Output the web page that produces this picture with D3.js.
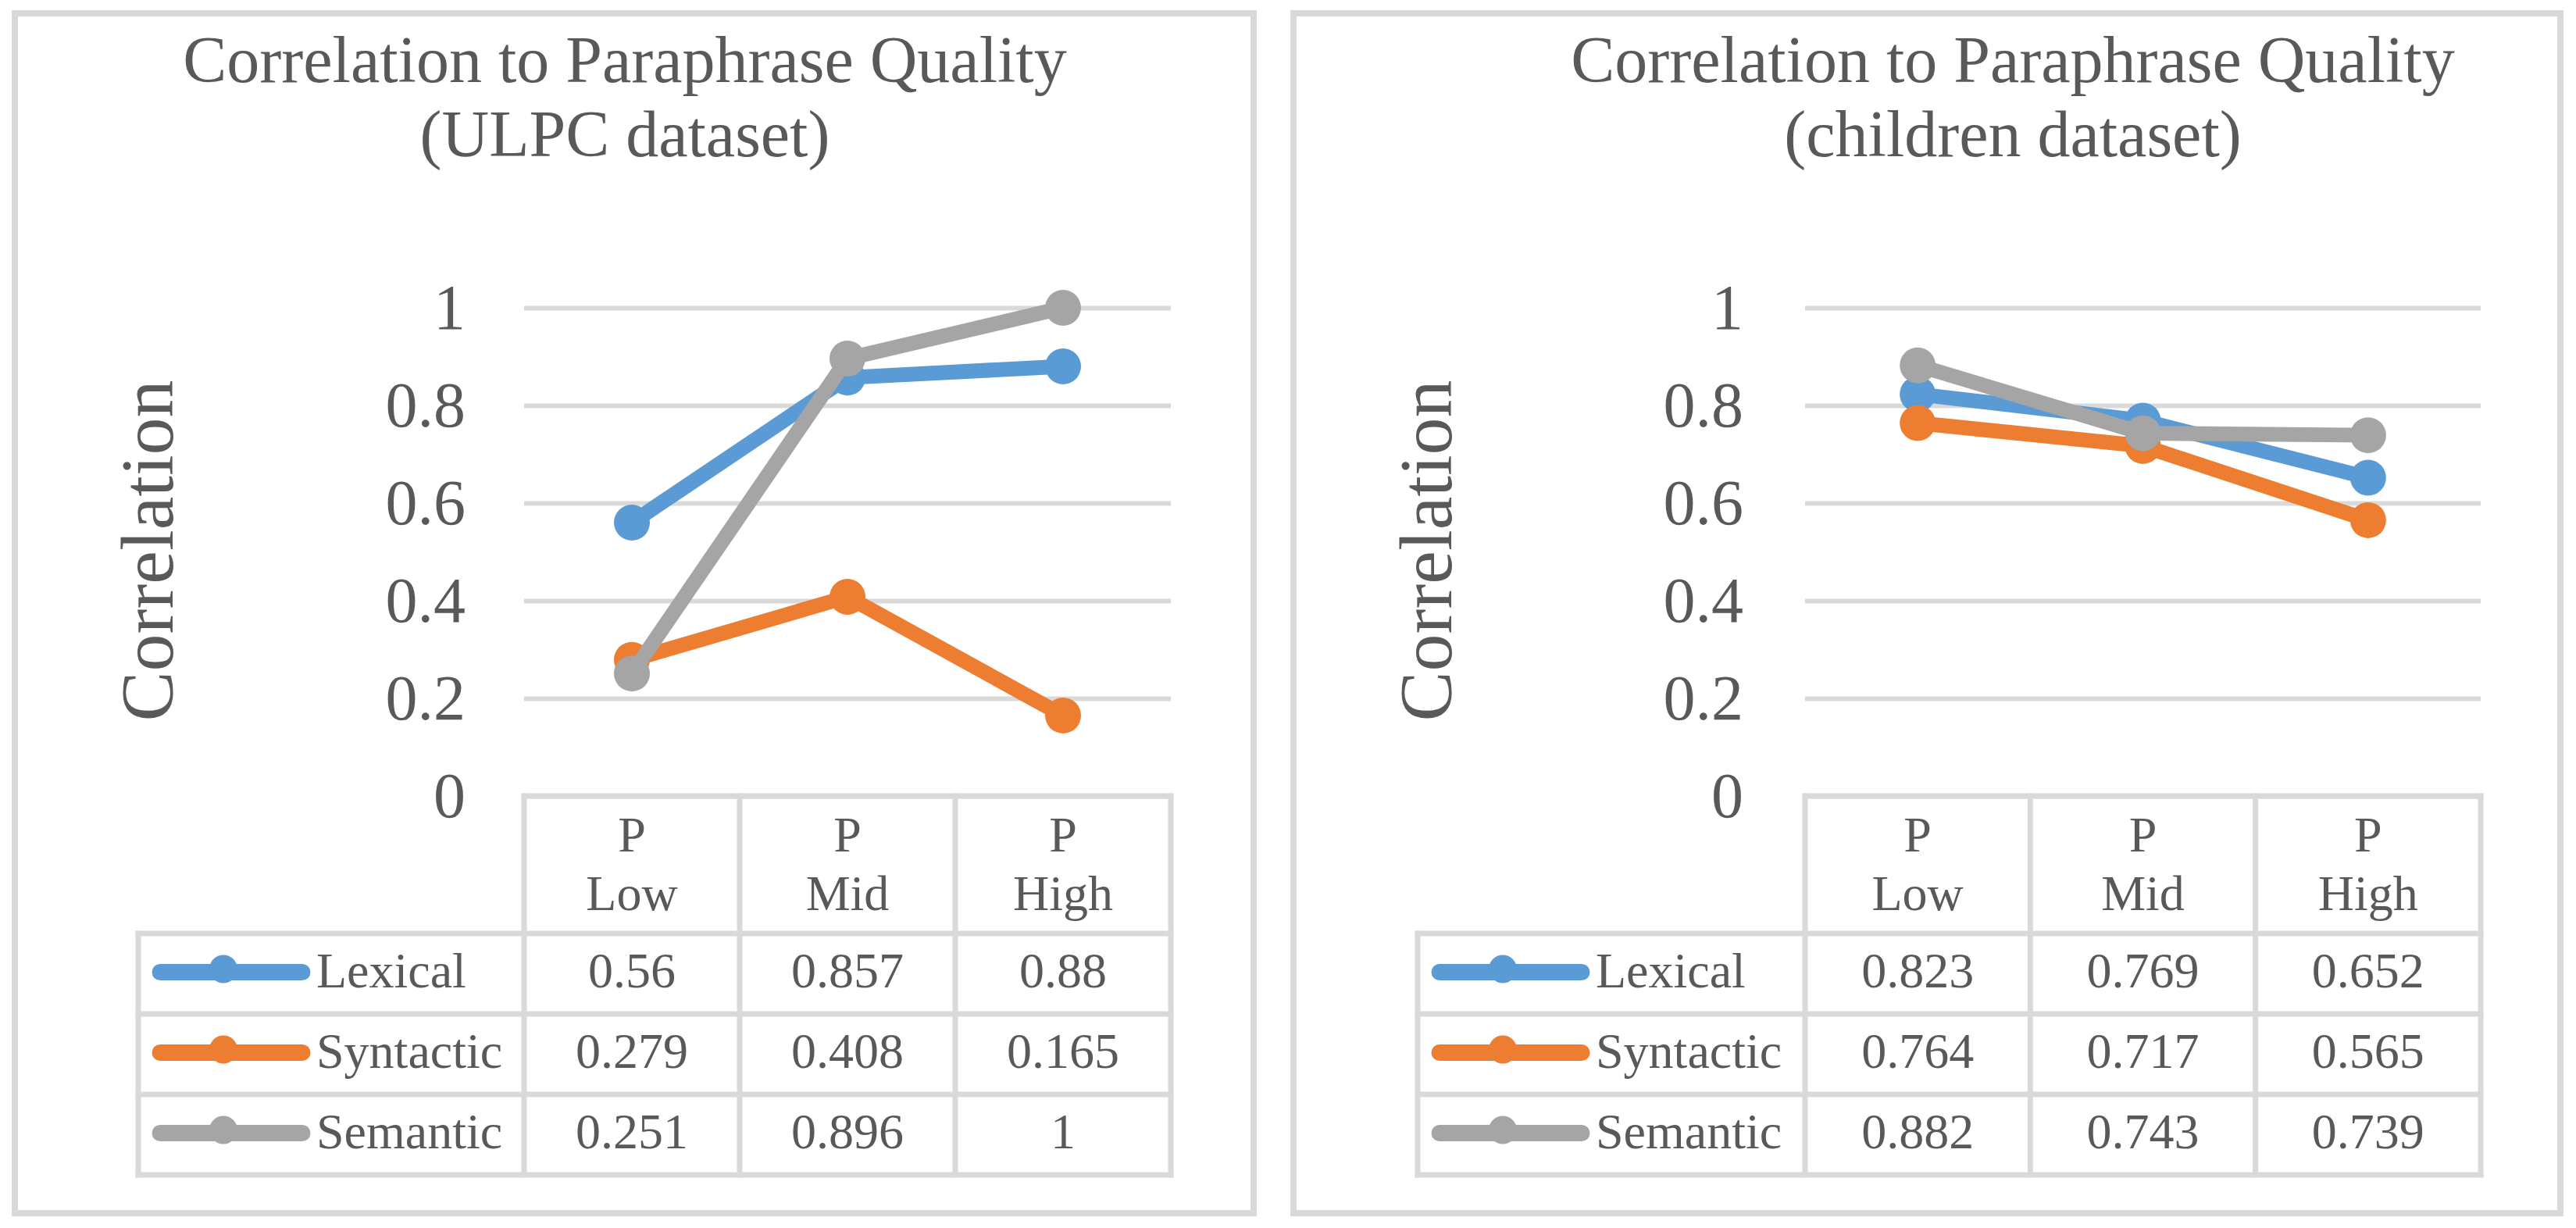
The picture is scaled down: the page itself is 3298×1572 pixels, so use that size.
<!DOCTYPE html>
<html>
<head>
<meta charset="utf-8">
<script src="https://cdn.jsdelivr.net/npm/d3@7"></script>
<style>
  body { margin: 0; background: #fff; }
  text { font-family: "Liberation Serif", Tinos, "Times New Roman", Times, "DejaVu Serif", serif; fill: #595959; }
</style>
</head>
<body>
<svg></svg>
<script>
/* chart data */
var categories = ["Low", "Mid", "High"];
var categoryPrefix = "P";
var seriesNames = ["Lexical", "Syntactic", "Semantic"];
var seriesColors = ["#5B9BD5", "#ED7D31", "#A5A5A5"];
var yTicks = [0, 0.2, 0.4, 0.6, 0.8, 1];
var yAxisTitle = "Correlation";

var ulpcLexical = [0.56, 0.857, 0.88];
var ulpcSyntactic = [0.279, 0.408, 0.165];
var ulpcSemantic = [0.251, 0.896, 1];
var ulpcTitle = ["Correlation to Paraphrase Quality", "(ULPC dataset)"];

var childLexical = [0.823, 0.769, 0.652];
var childSyntactic = [0.764, 0.717, 0.565];
var childSemantic = [0.882, 0.743, 0.739];
var childTitle = ["Correlation to Paraphrase Quality", "(children dataset)"];

var width = 3298;
var height = 1572;
var gridColor = "#D9D9D9";
var serif = '"Liberation Serif", Tinos, "Times New Roman", Times, "DejaVu Serif", serif';
var plotTop = 394;
var plotBottom = 1019;
var headerBottom = 1195;
var rowHeight = 103;

var svg = d3.select("svg").attr("width", width).attr("height", height);

var panels = [
  {
    frame: [19, 17, 1605, 1553],
    plotLeft: 671, plotRight: 1499, tableLeft: 177,
    titleX: 800, labelX: 221, tickPad: 75,
    title: ulpcTitle,
    series: [ulpcLexical, ulpcSyntactic, ulpcSemantic]
  },
  {
    frame: [1656, 17, 3278, 1553],
    plotLeft: 2311, plotRight: 3176, tableLeft: 1815,
    titleX: 2577, labelX: 1858, tickPad: 79,
    title: childTitle,
    series: [childLexical, childSyntactic, childSemantic]
  }
];

var drawPanel = function (p) {
  var g = svg.append("g");

  /* outer frame */
  g.append("rect")
    .attr("x", p.frame[0])
    .attr("y", p.frame[1])
    .attr("width", p.frame[2] - p.frame[0])
    .attr("height", p.frame[3] - p.frame[1])
    .attr("fill", "#fff")
    .attr("stroke", gridColor)
    .attr("stroke-width", 8);

  var x = d3.scaleBand().domain(categories).range([p.plotLeft, p.plotRight]);
  var y = d3.scaleLinear().domain([0, 1]).range([plotBottom, plotTop]);

  /* title */
  p.title.forEach((t, i) => {
    g.append("text")
      .attr("x", p.titleX)
      .attr("y", 105 + i * 95)
      .attr("text-anchor", "middle")
      .style("font-family", serif)
      .style("font-size", "84px")
      .text(t);
  });

  /* y axis title */
  g.append("text")
    .attr("transform", "translate(" + p.labelX + ",705) rotate(-90)")
    .attr("text-anchor", "middle")
    .style("font-family", serif)
    .style("font-size", "96px")
    .text(yAxisTitle);

  /* gridlines + tick labels */
  var yAxis = d3
    .axisLeft(y)
    .tickValues(yTicks)
    .tickSize(-(p.plotRight - p.plotLeft))
    .tickPadding(p.tickPad)
    .tickFormat(d3.format("~g"));
  var ax = g.append("g")
    .attr("transform", "translate(" + p.plotLeft + ",0)")
    .call(yAxis);
  ax.attr("font-family", null).attr("font-size", null);
  ax.select(".domain").remove();
  ax.selectAll("line").attr("stroke", gridColor).attr("stroke-width", 6);
  ax.selectAll("text")
    .attr("fill", "#595959")
    .style("font-size", "82px")
    .style("font-family", serif);

  /* data table */
  var tableBottom = headerBottom + rowHeight * seriesNames.length;
  var tg = g.append("g")
    .attr("stroke", gridColor)
    .attr("stroke-width", 7)
    .attr("stroke-linecap", "square");
  tg.append("line")
    .attr("x1", p.plotLeft).attr("x2", p.plotRight)
    .attr("y1", y(0)).attr("y2", y(0));
  var colEdges = categories.map((c) => x(c)).concat([p.plotRight]);
  colEdges.forEach((cx) => {
    tg.append("line")
      .attr("x1", cx).attr("x2", cx)
      .attr("y1", y(0)).attr("y2", tableBottom);
  });
  tg.append("line")
    .attr("x1", p.tableLeft).attr("x2", p.tableLeft)
    .attr("y1", headerBottom).attr("y2", tableBottom);
  d3.range(seriesNames.length + 1).forEach((i) => {
    tg.append("line")
      .attr("x1", p.tableLeft).attr("x2", p.plotRight)
      .attr("y1", headerBottom + i * rowHeight)
      .attr("y2", headerBottom + i * rowHeight);
  });

  /* header: category labels */
  categories.forEach((c) => {
    var cx = x(c) + x.bandwidth() / 2;
    g.append("text").attr("x", cx).attr("y", 1090)
      .attr("text-anchor", "middle").style("font-family", serif)
      .style("font-size", "64px").text(categoryPrefix);
    g.append("text").attr("x", cx).attr("y", 1165)
      .attr("text-anchor", "middle").style("font-family", serif)
      .style("font-size", "64px").text(c);
  });

  /* rows: legend keys + values */
  seriesNames.forEach((name, si) => {
    var cy = headerBottom + si * rowHeight + rowHeight / 2;
    g.append("line")
      .attr("x1", p.tableLeft + 28).attr("x2", p.tableLeft + 210)
      .attr("y1", cy - 2).attr("y2", cy - 2)
      .attr("stroke", seriesColors[si])
      .attr("stroke-width", 21)
      .attr("stroke-linecap", "round");
    g.append("circle")
      .attr("cx", p.tableLeft + 109).attr("cy", cy - 6).attr("r", 18)
      .attr("fill", seriesColors[si]);
    g.append("text")
      .attr("x", p.tableLeft + 228).attr("y", cy + 17)
      .style("font-family", serif)
      .style("font-size", "64px").text(name);
    p.series[si].forEach((v, ci) => {
      g.append("text")
        .attr("x", x(categories[ci]) + x.bandwidth() / 2)
        .attr("y", cy + 17)
        .attr("text-anchor", "middle")
        .style("font-family", serif)
        .style("font-size", "64px")
        .text(String(v));
    });
  });

  /* series lines with markers */
  var line = d3.line()
    .x((d, i) => x(categories[i]) + x.bandwidth() / 2)
    .y((d) => y(d));
  p.series.forEach((vals, si) => {
    var sg = g.append("g");
    sg.append("path")
      .attr("d", line(vals))
      .attr("fill", "none")
      .attr("stroke", seriesColors[si])
      .attr("stroke-width", 19)
      .attr("stroke-linejoin", "round");
    sg.selectAll("circle")
      .data(vals)
      .enter()
      .append("circle")
      .attr("cx", (d, i) => x(categories[i]) + x.bandwidth() / 2)
      .attr("cy", (d) => y(d))
      .attr("r", 23)
      .attr("fill", seriesColors[si]);
  });
};

panels.forEach(drawPanel);
</script>
</body>
</html>
